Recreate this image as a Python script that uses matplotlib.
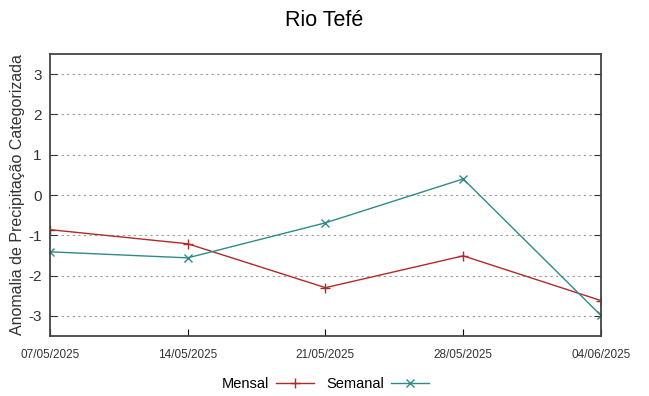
import matplotlib
matplotlib.use("Agg")
import matplotlib.pyplot as plt

# values
datas = ["07/05/2025", "14/05/2025", "21/05/2025", "28/05/2025", "04/06/2025"]
mensal = [-0.86, -1.21, -2.30, -1.51, -2.62]
semanal = [-1.41, -1.56, -0.69, 0.40, -2.99]

plt.rcParams["font.family"] = ["Liberation Sans", "DejaVu Sans"]
plt.rcParams["axes.unicode_minus"] = False

fig = plt.figure(figsize=(6.49, 3.96), dpi=100)
ax = fig.add_axes([0.077, 0.1515, 0.849, 0.712])

x = list(range(len(datas)))
ax.plot(x, mensal, color="#b02a2a", lw=1, marker="+", ms=7, mew=1, label="Mensal")
ax.plot(x, semanal, color="#2f8a8a", lw=1, marker="x", ms=6, mew=1, label="Semanal")

ax.set_xlim(0, len(datas) - 1)
ax.set_ylim(-3.5, 3.5)
ax.set_yticks([-3, -2, -1, 0, 1, 2, 3])
ax.set_xticks(x)
ax.set_xticklabels(datas, fontsize=8.5, color="#333333")
ax.tick_params(axis="y", labelsize=11, colors="#333333", direction="in", right=True, length=5, pad=6)
ax.tick_params(axis="x", direction="in", length=5, pad=9)
ax.grid(axis="y", linestyle=(0, (2, 3)), color="#999999", lw=0.8)
for s in ax.spines.values():
    s.set_color("#444444")
    s.set_linewidth(1.3)

ax.set_ylabel("Anomalia de Precipitação Categorizada", fontsize=11.5, color="#333333", labelpad=2)
fig.suptitle("Rio Tefé", fontsize=15.5, y=0.975)

ax.legend(loc="upper center", bbox_to_anchor=(0.5, -0.1), ncol=2, frameon=False,
          markerfirst=False, fontsize=10.5, handlelength=2.6, columnspacing=0.8,
          handletextpad=0.5)

fig.savefig("out.png", dpi=100)
